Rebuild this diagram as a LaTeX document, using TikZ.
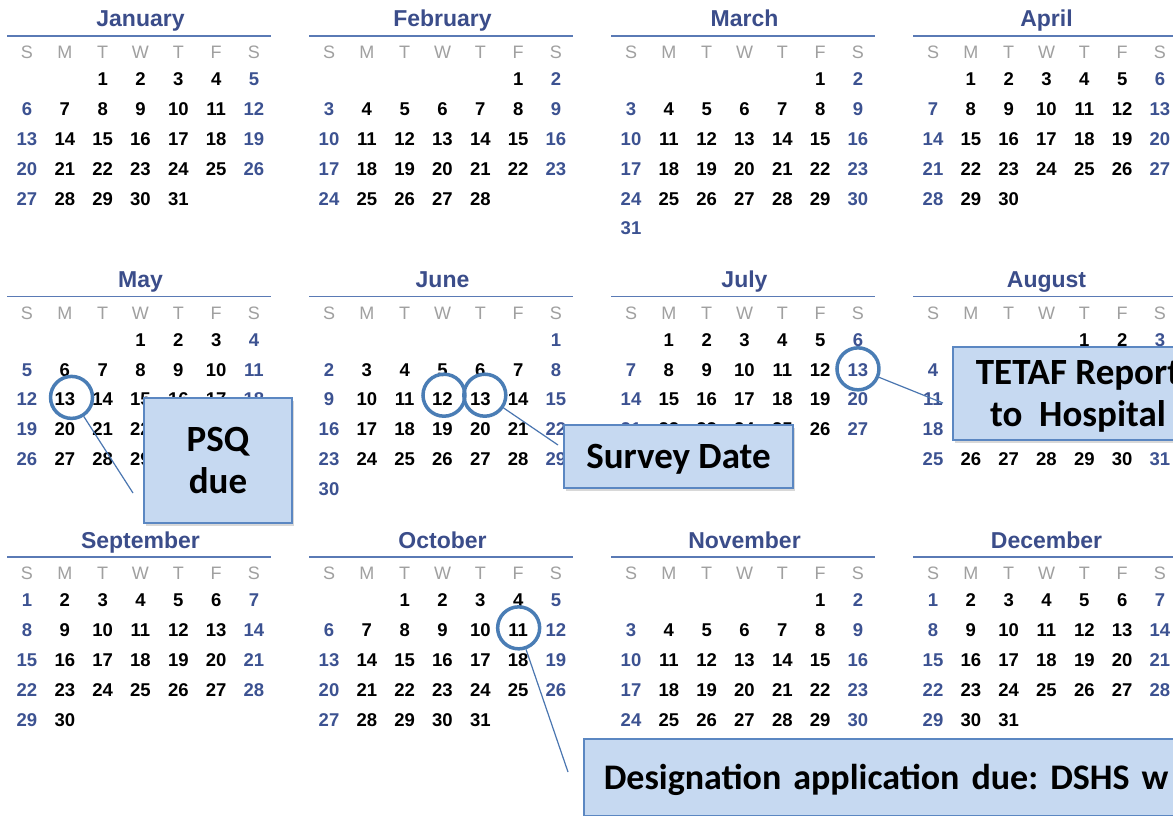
\documentclass[tikz,border=0pt]{standalone}
\usepackage{fontspec}
\setmainfont{Liberation Sans}
\newfontfamily\calloutfont{Carlito}
\usetikzlibrary{shadows,calc}
\definecolor{titleblue}{HTML}{3B4D8A}
\definecolor{wkblue}{HTML}{3C5291}
\definecolor{rulecol}{HTML}{5A7AB5}
\definecolor{hdrgray}{HTML}{A0A0A0}
\definecolor{boxfill}{HTML}{C6D9F1}
\definecolor{boxdraw}{HTML}{5B87C2}
\definecolor{ringcol}{HTML}{4A7DB5}
\definecolor{conncol}{HTML}{4A76B0}
\tikzset{
  monthtitle/.style={anchor=base, inner sep=0pt, text=titleblue, font=\bfseries\fontsize{23}{26}\selectfont},
  monthrule/.style={draw=rulecol, line width=1.3pt},
  wdhead/.style={inner sep=0pt, text=hdrgray, text height=13pt, text depth=0pt, font=\fontsize{18}{20}\selectfont},
  daynum/.style={inner sep=0pt, text height=13.3pt, text depth=0pt, font=\bfseries\fontsize{18.5}{20}\selectfont},
  ring/.style={circle, draw=ringcol, line width=3.5pt, minimum size=42pt, inner sep=0pt},
  conn/.style={draw=conncol, line width=1.2pt},
  callout/.style={draw=boxdraw, fill=boxfill, line width=1.5pt,
    drop shadow={opacity=0.3, shadow xshift=2pt, shadow yshift=-2.5pt},
    font=\calloutfont\bfseries\frenchspacing\fontsize{37}{42}\selectfont,
    align=center, inner sep=0pt, text depth=0pt},
}
\begin{document}
\begin{tikzpicture}[x=1pt,y=-1pt]
\useasboundingbox (0,0) rectangle (1173,816);
\clip (0,0) rectangle (1173,816);
\fill[white] (0,0) rectangle (1173,816);
\foreach \mname/\off/\len [count=\i from 0] in {January/2/31, February/5/28, March/5/31, April/1/30, May/3/31, June/6/30, July/1/31, August/4/31, September/0/30, October/2/31, November/5/30, December/0/31}{
  \pgfmathsetmacro\cx{27+302*mod(\i,4)}
  \pgfmathsetmacro\ry{260.5*int(\i/4)}
  \node[monthtitle] (t\i) at (\cx+113.5,\ry+27) {\mname};
  \draw[monthrule] (\cx-20,\ry+36) -- (\cx+244,\ry+36);
  \foreach \l [count=\j from 0] in {S,M,T,W,T,F,S}
    \node[wdhead] (h\i-\j) at (\cx+37.83*\j,\ry+52) {\l};
  \foreach \d in {1,...,\len}{
    \pgfmathtruncatemacro\p{\off+\d-1}
    \pgfmathtruncatemacro\col{mod(\p,7)}
    \pgfmathtruncatemacro\wk{int(\p/7)}
    \ifnum\col=0 \def\dc{wkblue}\else\ifnum\col=6 \def\dc{wkblue}\else\def\dc{black}\fi\fi
    \node[daynum, text=\dc] (m\i-\d) at (\cx+37.83*\col, \ry+79+29.85*\wk) {\d};
  }
}
% highlight rings
\node[ring] (rMay) at ($(m4-13)+(6.7,-1.8)$) {};
\node[ring] (rJun12) at ($(m5-12)+(1.5,-4)$) {};
\node[ring] (rJun13) at ($(m5-13)+(4.5,-4)$) {};
\node[ring] (rJul) at ($(m6-13)+(0,-0.5)$) {};
\node[ring] (rOct) at ($(m9-11)+(0.5,-2)$) {};
% connector tips
\coordinate (psqTip) at (133,493);
\coordinate (surveyTip) at (558,445);
\coordinate (tetafTip) at (943,403);
\coordinate (desigTip) at (568,772);
\draw[conn] (rMay) -- (psqTip);
\draw[conn] (rJun13) -- (surveyTip);
\draw[conn] (rJul) -- (tetafTip);
\draw[conn] (rOct) -- (desigTip);
% callouts
\node[callout, minimum width=148pt, minimum height=125pt] (psq) at (218,460.5) {PSQ\\due};
\node[callout, minimum width=229pt, minimum height=63pt] (survey) at (678.5,456.5) {Survey Date};
\node[callout, minimum width=250pt, minimum height=93pt] (tetaf) at (1078,393.5) {TETAF Report\\to\ \ Hospital};
\node[callout, anchor=north west, minimum height=77pt, text width=680pt, inner xsep=20pt, align=left,
  font=\calloutfont\bfseries\frenchspacing\fontsize{36}{42}\selectfont] (desig) at (583,738) {Designation application due: DSHS w};
\end{tikzpicture}
\end{document}
